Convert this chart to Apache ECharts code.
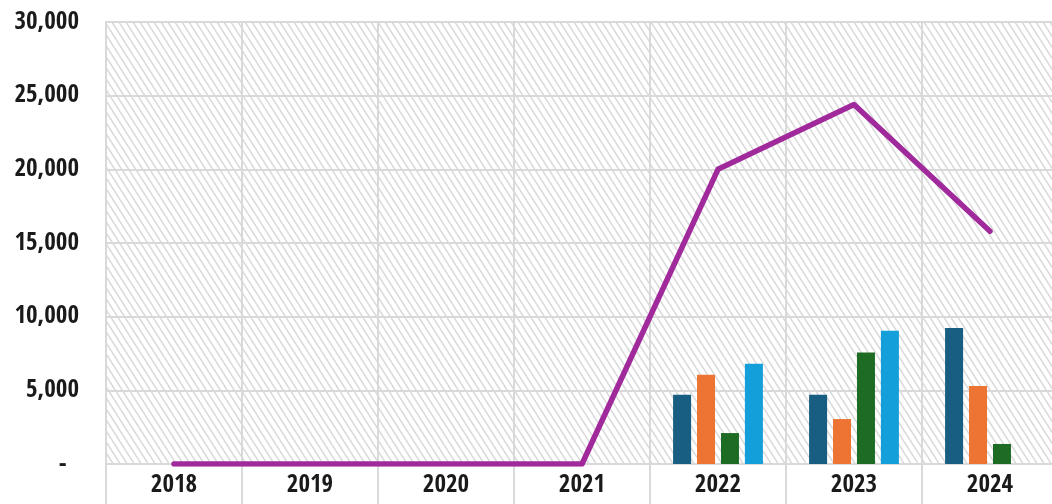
<!DOCTYPE html>
<html>
<head>
<meta charset="utf-8">
<style>
  html, body { margin: 0; padding: 0; background: #ffffff; overflow: hidden; }
  #chart { width: 1058px; height: 504px; }
</style>
<script src="https://cdn.jsdelivr.net/npm/echarts@6/dist/echarts.min.js"></script>
</head>
<body>
<div id="chart"></div>
<script>
// Years on the category axis
const years = ['2018', '2019', '2020', '2021', '2022', '2023', '2024'];

// Bar series (four groups per year)
const seriesA = [null, null, null, null, 4700, 4700, 9230];
const seriesB = [null, null, null, null, 6050, 3050, 5300];
const seriesC = [null, null, null, null, 2100, 7560, 1360];
const seriesD = [null, null, null, null, 6800, 9050, null];

// Total line
const totalLine = [0, 0, 0, 0, 20000, 24400, 15800];

// Value axis ticks
const yMax = 30000;
const yStep = 5000;

// Diagonal hatch tile used as the plot background
function hatchPattern() {
  const w = 7, h = 11;
  const c = document.createElement('canvas');
  c.width = w; c.height = h;
  const ctx = c.getContext('2d');
  ctx.fillStyle = '#ffffff';
  ctx.fillRect(0, 0, w, h);
  ctx.strokeStyle = '#dadada';
  ctx.lineWidth = 1.5;
  for (let k = -1; k <= 1; k++) {
    ctx.beginPath();
    ctx.moveTo(k * w - w, -h);
    ctx.lineTo(k * w + 2 * w, 2 * h);
    ctx.stroke();
  }
  return { image: c, repeat: 'repeat' };
}

const labelFont = {
  fontFamily: '"Open Sans Condensed", "Roboto Condensed", "Liberation Sans", sans-serif',
  fontWeight: 'bold',
  fontSize: 25,
  color: '#1a1a1a'
};

const gridColor = '#d9d9d9';

// The plot runs a few pixels past the right edge of the window
const chart = echarts.init(document.getElementById('chart'), null, { renderer: 'canvas' });

function barSeries(name, data, color) {
  return {
    name: name,
    type: 'bar',
    data: data,
    barWidth: 18,
    barGap: '33%',
    itemStyle: { color: color },
    z: 3
  };
}

chart.setOption({
  animation: false,
  grid: {
    left: 106,
    top: 22,
    right: 0,
    bottom: 40,
    show: true,
    backgroundColor: hatchPattern(),
    borderColor: gridColor,
    borderWidth: 2
  },
  xAxis: {
    type: 'category',
    data: years,
    boundaryGap: true,
    axisLine: { show: true, lineStyle: { color: gridColor, width: 2 } },
    axisTick: { show: true, length: 42, interval: 0, lineStyle: { color: gridColor, width: 2 } },
    splitLine: { show: true, interval: 0, lineStyle: { color: gridColor, width: 2 } },
    axisLabel: Object.assign({ margin: 9, interval: 0 }, labelFont)
  },
  yAxis: {
    type: 'value',
    min: 0,
    max: yMax,
    interval: yStep,
    axisLine: { show: false },
    axisTick: { show: false },
    splitLine: { show: true, lineStyle: { color: gridColor, width: 2 } },
    axisLabel: Object.assign({
      margin: 27,
      formatter: function (v) {
        return v === 0 ? '-  ' : v.toLocaleString('en-US');
      }
    }, labelFont)
  },
  series: [
    barSeries('A', seriesA, '#175e82'),
    barSeries('B', seriesB, '#ed7433'),
    barSeries('C', seriesC, '#1e6b24'),
    barSeries('D', seriesD, '#139fd9'),
    {
      name: 'Total',
      type: 'line',
      data: totalLine,
      symbol: 'none',
      lineStyle: { color: '#a02a9c', width: 5.5, cap: 'round', join: 'round' },
      z: 4
    }
  ]
});
</script>
</body>
</html>
